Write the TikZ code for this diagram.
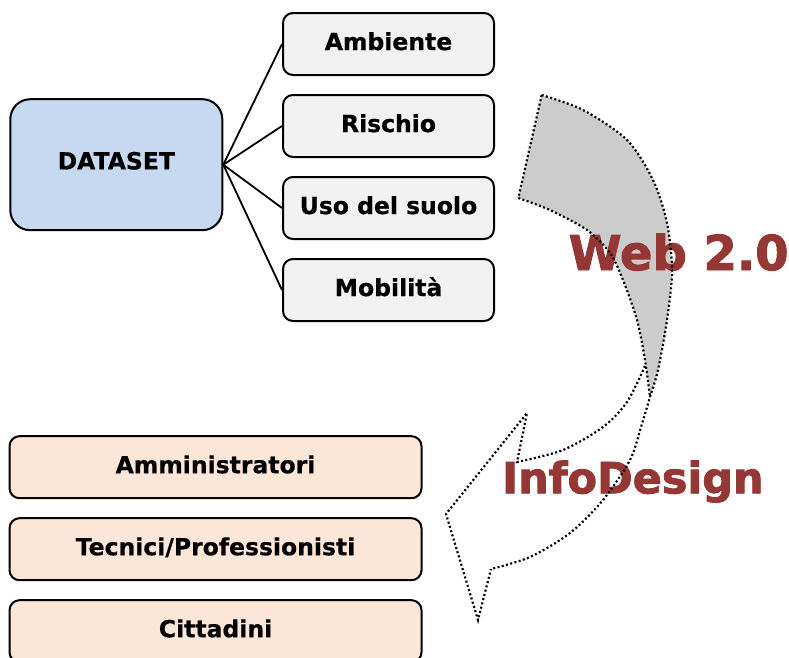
\documentclass[tikz,border=0pt]{standalone}
\usepackage{fontspec}
\setmainfont{DejaVu Sans}
\newfontfamily\boxfont{DejaVu Sans Bold}[FakeBold=0.6]
\newfontfamily\bigfont{DejaVu Sans Bold}[FakeBold=2]
\definecolor{boxgray}{RGB}{242,242,242}
\definecolor{dataBlue}{RGB}{198,217,240}
\definecolor{peach}{RGB}{252,230,216}
\definecolor{webred}{RGB}{149,55,53}
\definecolor{arrowgray}{RGB}{204,204,204}
\tikzset{
  box/.style={draw=black, line width=2pt, rounded corners=10pt, inner sep=0pt,
    font=\boxfont\fontsize{23.5}{28}\selectfont, text height=16pt, text depth=4pt},
  topic/.style={box, fill=boxgray, minimum width=211pt, minimum height=62pt},
  user/.style={box, fill=peach, minimum width=412pt, minimum height=62pt},
  data/.style={box, fill=dataBlue, minimum width=212pt, minimum height=131pt,
    rounded corners=20pt, text height=14pt, text depth=4.7pt},
  link/.style={line width=1.8pt},
  dots/.style={line width=2.2pt, dash pattern=on 2pt off 2.4pt},
  bigtext/.style={text=webred, anchor=base west, inner sep=0pt}
}
\begin{document}
\begin{tikzpicture}[x=1pt,y=-1pt]
\useasboundingbox (0,0) rectangle (789,657);
\clip (0,0) rectangle (789,657);

% gray back part of the curved arrow
\fill[arrowgray] plot[smooth] coordinates {(541.7,95) (583,110) (627,140) (653,180) (667,223) (672,271) (667,320) (658,370) (650,397)}
  -- plot[smooth] coordinates {(650,397) (645,360) (637,320) (623,280) (610,253) (587,230) (550,210) (518.3,198)} -- cycle;

% texts
\node[bigtext, font=\bigfont\fontsize{48}{58}\selectfont] (web) at (568.5,270) {Web 2.0};
\node[bigtext, font=\bigfont\fontsize{43}{52}\selectfont] (info) at (502,493.3) {InfoDesign};

% dotted outlines of the curved arrow
\draw[dots] (541.7,95) -- (518.3,198);
\draw[dots] plot[smooth] coordinates {(541.7,95) (583,110) (627,140) (653,180) (667,223) (672,271) (667,320) (658,370) (650,397) (641,427) (630,460) (603,500) (570,533) (530,557) (491,569)};
\draw[dots] plot[smooth] coordinates {(518.3,198) (550,210) (587,230) (610,253) (623,280) (637,320) (645,360) (650,397)};
\draw[dots] plot[smooth] coordinates {(645,366) (627,402) (603,427) (563,450) (517,462)}
  -- (527,413) -- (446,514) -- (478,620) -- (491,569);

% dataset and topics
\node[data] (ds) at (116.3,164.7) {DATASET};
\node[topic] (amb) at (388.5,44) {Ambiente};
\node[topic] (ris) at (388.5,126) {Rischio};
\node[topic] (uso) at (388.5,208) {Uso del suolo};
\node[topic] (mob) at (388.5,290) {Mobilità};
\draw[link] (ds.east) -- (amb.west);
\draw[link] (ds.east) -- (ris.west);
\draw[link] (ds.east) -- (uso.west);
\draw[link] (ds.east) -- (mob.west);

% users
\node[user] (amm) at (215.5,467.2) {Amministratori};
\node[user] (tec) at (215.5,549.2) {Tecnici/Professionisti};
\node[user] (cit) at (215.5,631.2) {Cittadini};
\end{tikzpicture}
\end{document}
